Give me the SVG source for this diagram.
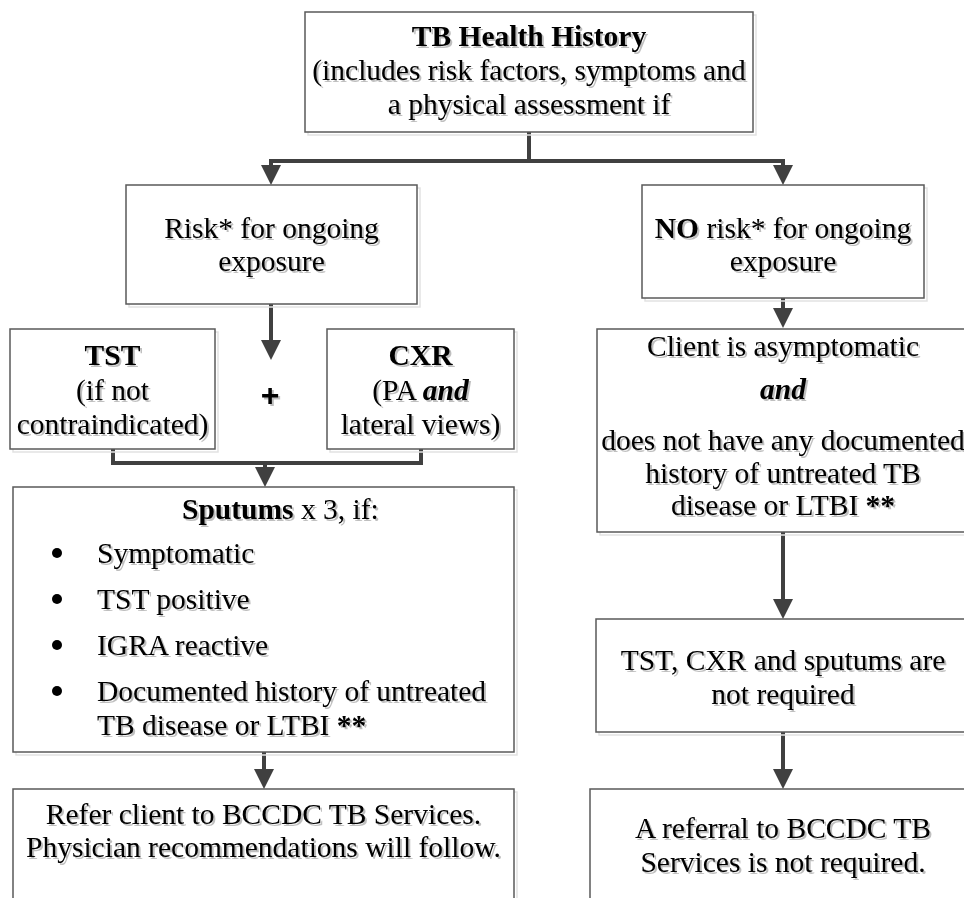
<svg xmlns="http://www.w3.org/2000/svg" width="964" height="898" viewBox="0 0 964 898">
<style>
  .box{fill:#fff;stroke:#5a5a5a;stroke-width:1.5}
  .sh{fill:none;stroke:#e2e2e2;stroke-width:1.5}
  .t{font-family:"Liberation Serif","Times New Roman",serif;font-size:29.5px;fill:#000;filter:url(#ts)}
  .c{text-anchor:middle}
  .b{font-weight:bold}
  .bi{font-weight:bold;font-style:italic}
  .plus{font-family:"Liberation Sans",Arial,sans-serif;font-size:32px;font-weight:bold;text-anchor:middle;fill:#000;filter:url(#ts)}
  .con{fill:none;stroke:#404040;stroke-width:4}
  .arr{stroke:#404040;stroke-width:4;fill:none;marker-end:url(#ah)}
</style>
<defs>
  <filter id="ts" x="-5%" y="-30%" width="115%" height="170%">
    <feDropShadow dx="2" dy="2" stdDeviation="0.6" flood-color="#000" flood-opacity="0.25"/>
  </filter>
  <marker id="ah" markerUnits="userSpaceOnUse" markerWidth="20" markerHeight="20" viewBox="0 0 20 20" refX="1" refY="10" orient="auto">
    <path d="M0,0 L20,10 L0,20 z" fill="#404040"/>
  </marker>
</defs>
<rect width="964" height="898" fill="#fff"/>

<g id="connectors">
  <line class="con" x1="529" y1="132" x2="529" y2="161"/>
  <line class="con" x1="269" y1="161" x2="785" y2="161"/>
  <line class="arr" x1="271" y1="159" x2="271" y2="166"/>
  <line class="arr" x1="783" y1="159" x2="783" y2="166"/>
  <line class="arr" x1="271" y1="304" x2="271" y2="341"/>
  <line class="arr" x1="783" y1="298" x2="783" y2="309"/>
  <polyline class="con" points="113,449 113,463 421,463 421,449"/>
  <line class="arr" x1="265" y1="461" x2="265" y2="468"/>
  <line class="arr" x1="264" y1="752" x2="264" y2="770"/>
  <line class="arr" x1="783" y1="532" x2="783" y2="600"/>
  <line class="arr" x1="783" y1="732" x2="783" y2="770"/>
</g>

<g id="top">
  <rect class="sh" x="308" y="15" width="448" height="120"/>
  <rect class="box" x="305" y="12" width="448" height="120"/>
  <text class="t c b" x="529" y="46">TB Health History</text>
  <text class="t c" x="529" y="80">(includes risk factors, symptoms and</text>
  <text class="t c" x="529" y="114">a physical assessment if</text>
</g>

<g id="risk">
  <rect class="sh" x="129" y="188" width="291" height="119"/>
  <rect class="box" x="126" y="185" width="291" height="119"/>
  <text class="t c" x="271.5" y="238">Risk* for ongoing</text>
  <text class="t c" x="271.5" y="271">exposure</text>
</g>

<g id="norisk">
  <rect class="sh" x="645" y="188" width="282" height="113"/>
  <rect class="box" x="642" y="185" width="282" height="113"/>
  <text class="t c" x="783" y="238"><tspan class="b">NO</tspan> risk* for ongoing</text>
  <text class="t c" x="783" y="271">exposure</text>
</g>

<g id="tst">
  <rect class="sh" x="13" y="332" width="205" height="120"/>
  <rect class="box" x="10" y="329" width="205" height="120"/>
  <text class="t c b" x="112.5" y="365">TST</text>
  <text class="t c" x="112.5" y="400">(if not</text>
  <text class="t c" x="112.5" y="434">contraindicated)</text>
</g>

<g id="plus">
  <text class="plus" x="270" y="406">+</text>
</g>

<g id="cxr">
  <rect class="sh" x="330" y="332" width="187" height="120"/>
  <rect class="box" x="327" y="329" width="187" height="120"/>
  <text class="t c b" x="420.5" y="365">CXR</text>
  <text class="t c" x="420.5" y="400">(PA <tspan class="bi">and</tspan></text>
  <text class="t c" x="420.5" y="434">lateral views)</text>
</g>

<g id="client">
  <rect class="sh" x="600" y="332" width="380" height="203"/>
  <rect class="box" x="597" y="329" width="380" height="203"/>
  <text class="t c" x="783" y="356">Client is asymptomatic</text>
  <text class="t c bi" x="783" y="399">and</text>
  <text class="t c" x="783" y="450">does not have any documented</text>
  <text class="t c" x="783" y="483">history of untreated TB</text>
  <text class="t c" x="783" y="515">disease or LTBI <tspan class="b">**</tspan></text>
</g>

<g id="sputums">
  <rect class="sh" x="16" y="490" width="501" height="265"/>
  <rect class="box" x="13" y="487" width="501" height="265"/>
  <text class="t" x="182" y="519"><tspan class="b">Sputums</tspan> x 3, if:</text>
  <circle cx="57" cy="553" r="5" fill="#000"/>
  <text class="t" x="97" y="563">Symptomatic</text>
  <circle cx="57" cy="599" r="5" fill="#000"/>
  <text class="t" x="97" y="609">TST positive</text>
  <circle cx="57" cy="645" r="5" fill="#000"/>
  <text class="t" x="97" y="655">IGRA reactive</text>
  <circle cx="57" cy="691" r="5" fill="#000"/>
  <text class="t" x="97" y="701">Documented history of untreated</text>
  <text class="t" x="97" y="735">TB disease or LTBI <tspan class="b">**</tspan></text>
</g>

<g id="notrequired">
  <rect class="sh" x="599" y="622" width="380" height="113"/>
  <rect class="box" x="596" y="619" width="380" height="113"/>
  <text class="t c" x="783" y="670">TST, CXR and sputums are</text>
  <text class="t c" x="783" y="704">not required</text>
</g>

<g id="refer">
  <rect class="sh" x="16" y="792" width="501" height="130"/>
  <rect class="box" x="13" y="789" width="501" height="130"/>
  <text class="t c" x="263.5" y="824">Refer client to BCCDC TB Services.</text>
  <text class="t c" x="263.5" y="857">Physician recommendations will follow.</text>
</g>

<g id="noreferral">
  <rect class="sh" x="593" y="792" width="390" height="130"/>
  <rect class="box" x="590" y="789" width="390" height="130"/>
  <text class="t c" x="783" y="838">A referral to BCCDC TB</text>
  <text class="t c" x="783" y="872">Services is not required.</text>
</g>
</svg>
